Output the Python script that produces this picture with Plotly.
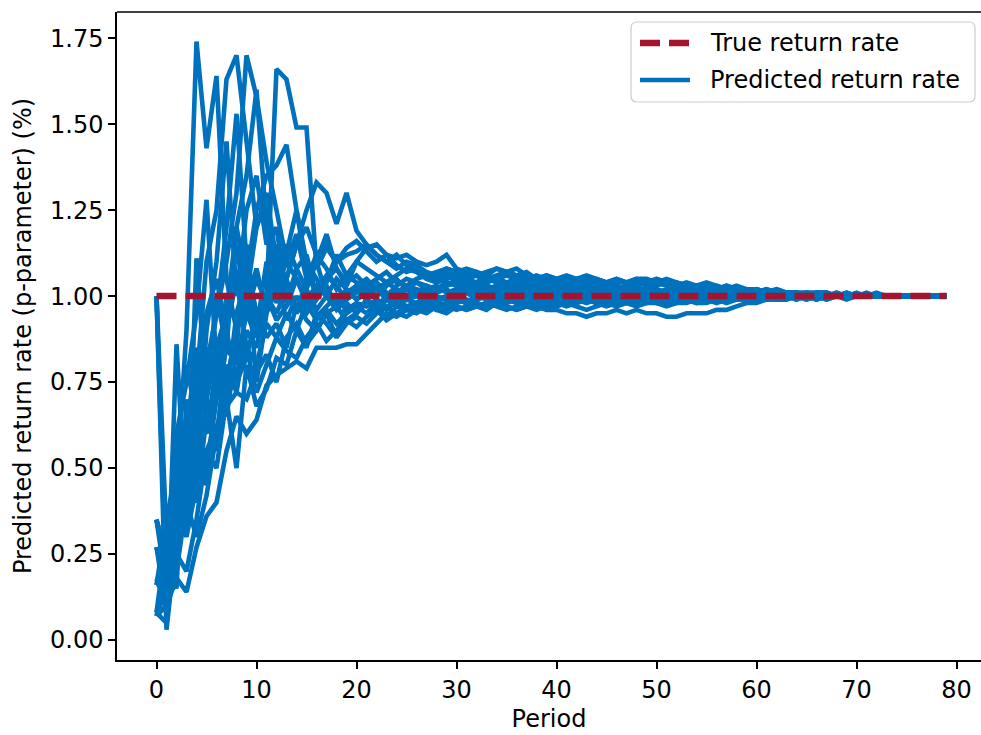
import plotly.graph_objects as go

periods = list(range(80))
true_rate = [1.0] * 80

s01 = [0.08,0.20,0.45,0.90,1.74,1.43,1.64,1.05,0.90,0.98,
       1.08,0.95,1.02,1.10,1.05,0.98,1.02,1.06,1.03,0.99,
       1.01,1.04,1.02,0.99,1.01,1.03,1.02,1.00,1.02,1.03,
       1.04,1.03,1.02,1.03,1.02,1.01,1.02,1.03,1.02,1.01,
       1.02,1.01,1.02,1.02,1.01,1.00,1.01,1.02,1.01,1.01,
       1.00,1.01,1.00,1.01,1.00,1.00,1.01,1.00,1.01,1.00,
       1.00,1.01,1.00,1.00,1.01,1.00,1.00,1.00,1.01,1.00,
       1.00,1.00,1.00,1.00,1.00,1.00,1.00,1.00,1.00,1.00]
s02 = [1.00,0.30,0.20,0.55,0.75,1.10,1.25,1.63,1.70,1.45,
       1.20,1.28,1.05,1.15,1.08,1.12,1.00,1.05,1.08,1.04,
       1.06,1.03,1.05,1.07,1.04,1.03,1.05,1.06,1.04,1.05,
       1.06,1.05,1.04,1.06,1.05,1.04,1.05,1.04,1.03,1.04,
       1.05,1.04,1.03,1.04,1.03,1.03,1.02,1.03,1.04,1.03,
       1.03,1.04,1.03,1.02,1.03,1.02,1.02,1.01,1.02,1.01,
       1.01,1.02,1.01,1.01,1.01,1.00,1.01,1.01,1.00,1.01,
       1.00,1.00,1.01,1.00,1.00,1.00,1.00,1.00,1.00,1.00]
s03 = [0.35,0.15,0.40,0.65,0.60,0.80,0.95,1.10,1.30,1.70,
       1.58,1.39,1.25,1.10,1.18,1.05,1.12,1.08,1.02,1.06,
       1.04,1.02,1.00,1.03,1.05,1.02,1.00,0.99,1.01,1.02,
       1.00,1.01,0.99,1.00,1.01,1.00,1.02,1.01,1.00,1.00,
       0.99,1.00,1.01,1.00,0.99,1.00,0.99,1.00,1.00,0.99,
       1.00,0.99,1.00,1.00,0.99,1.00,1.00,0.99,1.00,1.00,
       1.00,0.99,1.00,1.00,1.00,1.00,0.99,1.00,1.00,1.00,
       1.00,1.00,1.00,1.00,1.00,1.00,1.00,1.00,1.00,1.00]
s04 = [0.17,0.25,0.30,0.55,0.70,0.85,0.75,1.00,0.92,1.10,
       0.95,1.00,1.66,1.63,1.49,1.49,1.08,1.14,1.10,1.12,
       1.13,1.15,1.12,1.10,1.08,1.10,1.09,1.07,1.06,1.08,
       1.07,1.06,1.07,1.05,1.06,1.07,1.06,1.05,1.06,1.05,
       1.04,1.05,1.04,1.05,1.04,1.03,1.04,1.04,1.03,1.04,
       1.04,1.05,1.04,1.03,1.03,1.02,1.03,1.02,1.02,1.01,
       1.02,1.01,1.01,1.01,1.00,1.01,1.01,1.00,1.00,1.00,
       1.01,1.00,1.00,1.00,1.00,1.00,1.00,1.00,1.00,1.00]
s05 = [0.27,0.08,0.35,0.50,0.45,0.70,0.85,0.95,1.20,1.05,
       1.25,1.35,1.38,1.44,1.25,1.10,1.05,1.00,0.98,1.02,
       0.99,1.01,1.03,1.00,0.98,1.00,1.02,1.01,0.99,1.00,
       1.01,1.02,1.00,1.01,1.02,1.03,1.02,1.01,1.02,1.01,
       1.00,1.01,1.02,1.01,1.00,1.01,1.00,1.01,1.02,1.01,
       1.00,1.01,1.00,1.01,1.00,1.00,1.01,1.00,1.00,1.01,
       1.00,1.00,1.00,1.01,1.00,1.00,1.00,1.00,1.00,1.00,
       1.00,1.00,1.00,1.00,1.00,1.00,1.00,1.00,1.00,1.00]
s06 = [0.07,0.18,0.25,0.40,0.55,0.50,0.70,0.85,0.80,0.95,
       1.05,0.98,1.10,1.05,1.15,1.25,1.33,1.30,1.21,1.30,
       1.19,1.15,1.12,1.10,1.12,1.09,1.08,1.06,1.05,1.07,
       1.06,1.05,1.06,1.04,1.05,1.06,1.05,1.04,1.05,1.04,
       1.03,1.04,1.05,1.04,1.03,1.04,1.03,1.02,1.03,1.04,
       1.05,1.04,1.03,1.03,1.02,1.03,1.02,1.03,1.02,1.01,
       1.02,1.01,1.02,1.01,1.01,1.00,1.01,1.01,1.00,1.00,
       1.00,1.01,1.00,1.00,1.00,1.00,1.00,1.00,1.00,1.00]
s07 = [0.07,0.10,0.18,0.14,0.27,0.36,0.40,0.55,0.65,0.60,
       0.64,0.74,0.77,0.79,0.81,0.79,0.85,0.85,0.85,0.86,
       0.86,0.89,0.92,0.95,0.94,0.96,0.95,0.97,0.96,0.95,
       0.97,0.96,0.97,0.98,0.97,0.96,0.97,0.98,0.97,0.96,
       0.96,0.95,0.95,0.94,0.95,0.95,0.96,0.95,0.96,0.95,
       0.95,0.94,0.94,0.95,0.95,0.95,0.96,0.96,0.97,0.98,
       0.98,0.99,0.99,0.99,1.00,0.99,1.00,1.00,1.00,0.99,
       1.00,1.00,1.00,1.00,1.00,1.00,1.00,1.00,1.00,1.00]
s08 = [1.00,0.03,0.30,0.55,0.60,0.45,0.75,0.90,1.05,0.85,
       0.80,0.92,0.88,0.95,0.90,0.98,0.93,0.96,0.92,0.95,
       0.97,0.95,0.98,0.96,0.99,0.97,0.98,0.99,0.97,0.98,
       0.99,0.98,0.99,1.00,0.98,0.99,0.98,0.99,1.00,0.99,
       0.98,0.99,0.98,0.99,0.98,0.99,0.98,0.98,0.99,0.98,
       0.99,0.98,0.99,0.99,0.98,0.99,0.99,1.00,0.99,0.99,
       1.00,0.99,0.99,1.00,0.99,1.00,1.00,0.99,1.00,1.00,
       1.00,1.00,1.00,1.00,1.00,1.00,1.00,1.00,1.00,1.00]
s09 = [0.16,0.22,0.60,0.75,0.95,1.28,0.80,0.65,0.85,1.15,
       0.90,1.00,0.95,1.02,0.96,1.00,0.94,0.97,1.00,0.96,
       0.98,0.97,0.99,0.97,0.98,0.96,0.97,0.98,0.96,0.97,
       0.96,0.97,0.98,0.97,0.98,0.97,0.96,0.97,0.98,0.97,
       0.98,0.97,0.98,0.99,0.98,0.97,0.98,0.99,0.98,0.99,
       0.98,0.99,0.98,0.98,0.99,0.99,0.98,0.99,0.99,1.00,
       0.99,1.00,0.99,0.99,1.00,1.00,0.99,1.00,1.00,1.00,
       1.00,1.00,1.00,1.00,1.00,1.00,1.00,1.00,1.00,1.00]
s10 = [0.27,0.20,0.45,0.30,1.11,0.70,0.55,0.90,0.75,0.82,
       0.95,0.88,0.92,0.85,0.98,0.93,0.90,0.95,0.97,0.93,
       0.95,0.98,0.96,0.99,0.97,0.96,0.98,1.00,0.98,0.97,
       0.99,0.98,0.97,0.98,0.99,0.98,0.99,1.00,0.99,0.98,
       0.99,1.00,0.99,0.98,0.99,1.00,1.00,0.99,1.00,0.99,
       1.00,0.99,1.00,1.00,0.99,0.99,1.00,0.99,1.00,1.00,
       0.99,1.00,1.00,1.00,0.99,1.00,1.00,1.00,1.00,1.00,
       1.00,1.00,1.00,1.00,1.00,1.00,1.00,1.00,1.00,1.00]
s11 = [0.08,0.05,0.86,0.35,0.50,0.65,0.60,0.80,0.72,0.90,
       0.85,1.00,0.93,0.97,1.05,0.99,1.03,1.00,0.97,1.01,
       1.03,1.00,1.02,1.04,1.02,1.00,1.01,1.03,1.02,1.04,
       1.03,1.02,1.04,1.03,1.02,1.03,1.04,1.03,1.02,1.03,
       1.02,1.03,1.02,1.01,1.02,1.03,1.02,1.01,1.02,1.02,
       1.01,1.02,1.02,1.01,1.02,1.01,1.01,1.02,1.01,1.00,
       1.01,1.00,1.01,1.00,1.01,1.00,1.00,1.01,1.00,1.00,
       1.00,1.00,1.00,1.00,1.00,1.00,1.00,1.00,1.00,1.00]
s12 = [0.35,0.25,0.20,0.45,0.60,0.75,0.95,1.20,1.53,1.10,
       0.75,0.95,1.15,0.98,1.08,1.02,0.96,1.00,1.05,1.02,
       0.99,1.02,1.04,1.01,0.99,1.02,1.04,1.03,1.01,1.03,
       1.05,1.04,1.03,1.05,1.04,1.03,1.02,1.04,1.03,1.02,
       1.03,1.02,1.01,1.02,1.03,1.02,1.01,1.02,1.01,1.02,
       1.02,1.01,1.01,1.02,1.01,1.01,1.00,1.01,1.01,1.00,
       1.01,1.00,1.01,1.00,1.00,1.00,1.01,1.00,1.00,1.00,
       1.00,1.00,1.00,1.00,1.00,1.00,1.00,1.00,1.00,1.00]
s13 = [0.17,0.12,0.35,0.48,0.40,0.65,0.55,0.75,0.90,1.00,
       1.20,1.30,1.10,1.05,1.15,1.20,1.12,1.15,1.10,1.14,
       1.16,1.13,1.10,1.12,1.11,1.12,1.10,1.09,1.10,1.12,
       1.08,1.07,1.06,1.07,1.08,1.07,1.06,1.07,1.05,1.06,
       1.05,1.06,1.05,1.04,1.05,1.04,1.05,1.04,1.05,1.05,
       1.04,1.03,1.04,1.03,1.03,1.02,1.02,1.03,1.02,1.02,
       1.01,1.02,1.01,1.01,1.01,1.00,1.01,1.00,1.01,1.00,
       1.00,1.00,1.00,1.00,1.00,1.00,1.00,1.00,1.00,1.00]
s14 = [0.08,0.30,0.25,0.20,0.35,0.55,0.50,0.70,0.78,0.85,
       0.72,0.80,0.88,0.84,0.82,0.88,0.92,0.87,0.90,0.93,
       0.91,0.94,0.96,0.93,0.95,0.97,0.96,0.95,0.97,0.98,
       0.97,0.96,0.97,0.96,0.98,0.97,0.96,0.97,0.96,0.97,
       0.97,0.98,0.97,0.96,0.97,0.98,0.97,0.98,0.97,0.98,
       0.98,0.97,0.98,0.99,0.98,0.98,0.99,0.98,0.99,0.99,
       0.99,1.00,0.99,0.99,1.00,0.99,1.00,1.00,1.00,1.00,
       1.00,1.00,1.00,1.00,1.00,1.00,1.00,1.00,1.00,1.00]
s15 = [0.35,0.20,0.15,0.70,0.50,0.90,1.10,1.45,1.00,1.25,
       1.35,1.15,1.20,1.00,0.95,1.05,1.10,1.00,0.96,0.99,
       1.03,1.05,1.02,1.00,1.03,1.05,1.04,1.02,1.03,1.01,
       1.02,1.03,1.01,1.02,1.03,1.02,1.01,1.00,1.01,1.02,
       1.01,1.02,1.03,1.02,1.01,1.02,1.01,1.00,1.01,1.00,
       1.01,1.00,1.01,1.00,1.01,1.01,1.00,1.00,1.01,1.00,
       1.01,1.00,1.00,1.01,1.00,1.00,1.00,1.00,1.00,1.00,
       1.00,1.00,1.00,1.00,1.00,1.00,1.00,1.00,1.00,1.00]
s16 = [0.27,0.15,0.20,0.40,0.30,0.42,0.60,0.68,0.72,0.70,
       0.78,0.83,0.75,0.88,0.92,0.86,0.90,0.95,0.88,0.92,
       0.94,0.92,0.95,0.97,0.95,0.94,0.96,0.98,0.97,0.96,
       0.98,0.99,0.98,0.97,0.99,1.00,0.99,0.98,0.99,1.00,
       1.01,1.00,0.99,1.00,1.01,1.00,0.99,1.00,0.99,1.00,
       0.99,1.00,1.00,0.99,1.00,0.99,1.00,1.00,0.99,1.00,
       1.00,0.99,1.00,1.00,1.00,1.00,1.00,0.99,1.00,1.00,
       1.00,1.00,1.00,1.00,1.00,1.00,1.00,1.00,1.00,1.00]
s17 = [1.00,0.12,0.25,0.60,0.85,0.70,1.00,0.85,1.20,1.35,
       1.60,1.20,1.00,1.12,1.25,1.08,1.00,1.04,1.12,1.06,
       1.10,1.08,1.06,1.04,1.06,1.08,1.07,1.05,1.04,1.06,
       1.05,1.04,1.03,1.04,1.05,1.04,1.03,1.02,1.04,1.03,
       1.02,1.03,1.04,1.03,1.02,1.03,1.02,1.03,1.02,1.01,
       1.02,1.01,1.02,1.01,1.01,1.02,1.01,1.01,1.00,1.01,
       1.01,1.00,1.00,1.01,1.00,1.01,1.00,1.00,1.00,1.00,
       1.00,1.00,1.00,1.00,1.00,1.00,1.00,1.00,1.00,1.00]
s18 = [0.07,0.15,0.40,0.30,0.45,0.55,0.62,0.70,0.50,0.80,
       0.68,0.73,0.82,0.80,0.90,0.85,0.95,0.92,0.88,0.98,
       0.95,0.99,0.97,0.94,0.97,0.99,0.98,0.96,0.98,1.00,
       0.99,0.98,1.00,0.99,0.98,1.00,0.99,0.98,0.99,0.98,
       0.99,0.98,0.99,1.00,0.99,0.98,0.99,0.98,0.99,1.00,
       0.99,0.98,0.99,1.00,0.99,1.00,0.99,0.99,1.00,0.99,
       1.00,1.00,0.99,1.00,1.00,1.00,0.99,1.00,1.00,1.00,
       1.00,1.00,1.00,1.00,1.00,1.00,1.00,1.00,1.00,1.00]
s19 = [0.16,0.35,0.50,0.40,0.65,0.60,0.80,0.70,0.95,1.05,
       0.90,1.10,0.98,1.05,0.95,1.02,1.10,1.18,1.08,1.03,
       1.10,1.14,1.15,1.12,1.09,1.07,1.08,1.06,1.07,1.08,
       1.07,1.08,1.07,1.06,1.08,1.07,1.08,1.06,1.05,1.06,
       1.05,1.04,1.05,1.06,1.05,1.04,1.05,1.04,1.05,1.04,
       1.05,1.04,1.03,1.04,1.03,1.04,1.03,1.02,1.03,1.02,
       1.02,1.01,1.02,1.01,1.01,1.01,1.00,1.01,1.00,1.01,
       1.00,1.00,1.00,1.00,1.00,1.00,1.00,1.00,1.00,1.00]
s20 = [0.35,0.22,0.55,0.80,0.65,0.95,1.05,0.90,1.15,0.95,
       0.88,0.97,1.05,0.93,1.00,0.95,0.99,1.03,0.97,1.00,
       1.02,0.99,0.97,1.00,1.02,0.99,1.00,1.02,1.00,0.99,
       1.00,1.01,1.00,1.02,1.00,1.01,1.00,0.99,1.00,1.01,
       1.00,0.99,1.00,1.01,1.00,0.99,1.00,1.01,1.00,0.99,
       1.00,1.01,1.00,1.00,1.01,1.00,1.00,1.01,1.00,1.00,
       1.00,1.01,1.00,1.00,1.00,1.01,1.00,1.00,1.00,1.00,
       1.00,1.00,1.00,1.00,1.00,1.00,1.00,1.00,1.00,1.00]

predicted = [s01, s02, s03, s04, s05, s06, s07, s08, s09, s10,
             s11, s12, s13, s14, s15, s16, s17, s18, s19, s20]

x_ticks = [0, 10, 20, 30, 40, 50, 60, 70, 80]
y_ticks = [0.00, 0.25, 0.50, 0.75, 1.00, 1.25, 1.50, 1.75]
y_tick_text = ["0.00", "0.25", "0.50", "0.75", "1.00", "1.25", "1.50", "1.75"]
legend_labels = ["True return rate", "Predicted return rate"]

BLUE = "#0072BD"
RED = "#A2142F"
FONT = "DejaVu Sans"
FS = 24
W, H = 981, 735
ML, MR, MT, MB = 117, 0, 12, 75
PW, PH = W - ML - MR, H - MT - MB
RED_DASH = "20px,9px"
BLUE_W = 4.6
RED_W = 6.5


def px_x(px):
    return (px - ML) / PW


def px_y(py):
    return 1 - (py - MT) / PH


fig = go.Figure()
for i, s in enumerate(predicted):
    fig.add_trace(go.Scatter(
        x=periods, y=s, mode="lines",
        line=dict(color=BLUE, width=BLUE_W),
        name="Predicted return rate", showlegend=False,
    ))
fig.add_trace(go.Scatter(
    x=periods, y=true_rate, mode="lines",
    line=dict(color=RED, width=RED_W, dash=RED_DASH),
    name="True return rate", showlegend=False,
))

# manual legend (matplotlib-style box)
bx0, bx1, by0, by1, r = 631, 975, 22, 102, 6
rx, ry = r / PW, r / PH
X0, X1, Y0, Y1 = px_x(bx0), px_x(bx1), px_y(by1), px_y(by0)
path = (f"M {X0+rx},{Y0} L {X1-rx},{Y0} Q {X1},{Y0} {X1},{Y0+ry} "
        f"L {X1},{Y1-ry} Q {X1},{Y1} {X1-rx},{Y1} L {X0+rx},{Y1} "
        f"Q {X0},{Y1} {X0},{Y1-ry} L {X0},{Y0+ry} Q {X0},{Y0} {X0+rx},{Y0} Z")
shapes = [
    dict(type="line", xref="paper", yref="paper", x0=0, x1=1, y0=1, y1=1,
         line=dict(color="black", width=1.5)),
    dict(type="path", xref="paper", yref="paper", path=path,
         fillcolor="rgba(255,255,255,0.8)", line=dict(color="#cccccc", width=1.2)),
    dict(type="line", xref="paper", yref="paper", x0=px_x(640), x1=px_x(690),
         y0=px_y(43), y1=px_y(43), line=dict(color=RED, width=RED_W, dash=RED_DASH)),
    dict(type="line", xref="paper", yref="paper", x0=px_x(640), x1=px_x(690),
         y0=px_y(80), y1=px_y(80), line=dict(color=BLUE, width=BLUE_W)),
]
annotations = [
    dict(text=legend_labels[0], xref="paper", yref="paper", x=px_x(708), y=px_y(43),
         xanchor="left", yanchor="middle", showarrow=False,
         font=dict(family=FONT, size=FS, color="black")),
    dict(text=legend_labels[1], xref="paper", yref="paper", x=px_x(708), y=px_y(80),
         xanchor="left", yanchor="middle", showarrow=False,
         font=dict(family=FONT, size=FS, color="black")),
]

fig.update_layout(
    width=W, height=H,
    margin=dict(l=ML, r=MR, t=MT, b=MB),
    paper_bgcolor="white", plot_bgcolor="white",
    font=dict(family=FONT, size=FS, color="black"),
    showlegend=False,
    shapes=shapes,
    annotations=annotations,
    xaxis=dict(
        range=[-3.95, 82.45], tickvals=x_ticks,
        showgrid=False, zeroline=False,
        showline=True, linecolor="black", linewidth=1.5,
        ticks="outside", ticklen=7, tickwidth=1.5, tickcolor="black",
        tickfont=dict(size=FS),
        title=dict(text="Period", font=dict(size=FS), standoff=8),
    ),
    yaxis=dict(
        range=[-0.058, 1.826], tickvals=y_ticks, ticktext=y_tick_text,
        showgrid=False, zeroline=False,
        showline=True, linecolor="black", linewidth=1.5,
        ticks="outside", ticklen=7, tickwidth=1.5, tickcolor="black",
        tickfont=dict(size=FS),
        title=dict(text="Predicted return rate (p-parameter) (%)", font=dict(size=FS), standoff=12),
    ),
)

fig.write_html("out.html")
